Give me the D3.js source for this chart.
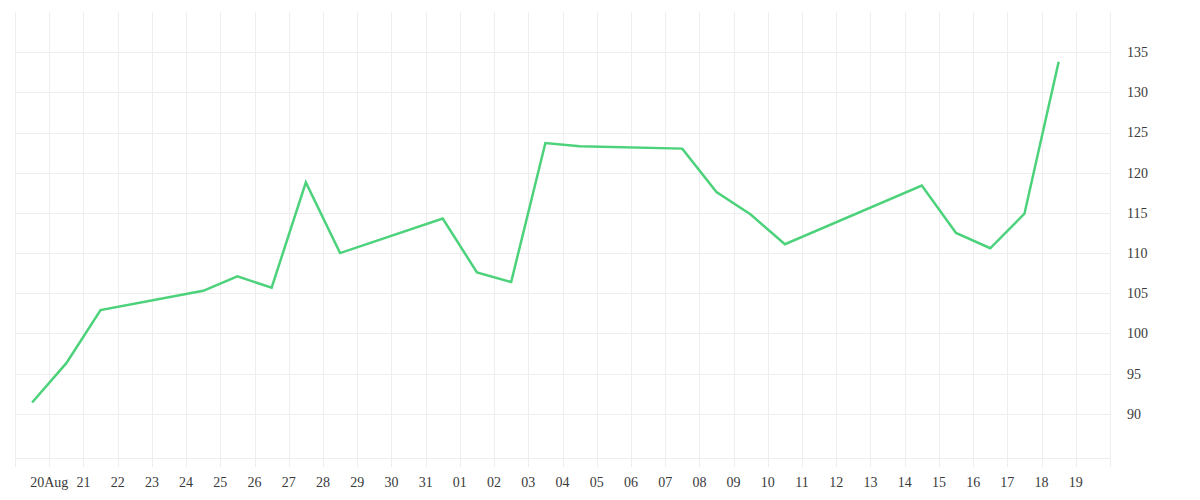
<!DOCTYPE html>
<html>
<head>
	<title>Price</title>
	<meta charset="UTF-8">
	<style>
		body {
			margin: 0;
			background: #fff;
		}

		.grid line {
			stroke: #eeeeee;
			stroke-width: 1px;
			shape-rendering: crispEdges;
		}

		.axis text {
			font-family: "Liberation Serif", serif;
			font-size: 14px;
			fill: #3a3a3a;
		}

		.line {
			fill: none;
			stroke: #4cd27b;
			stroke-width: 2.5px;
			stroke-linejoin: miter;
		}
	</style>
</head>
<body>
</body>
<script src="https://d3js.org/d3.v7.min.js"></script>
<script type="text/javascript">

'use strict';

// trading days (2020), one point per day
var dates = [
	"2020-08-19", "2020-08-20", "2020-08-21", "2020-08-24", "2020-08-25",
	"2020-08-26", "2020-08-27", "2020-08-28", "2020-08-31", "2020-09-01",
	"2020-09-02", "2020-09-03", "2020-09-04", "2020-09-07", "2020-09-08",
	"2020-09-09", "2020-09-10", "2020-09-14", "2020-09-15", "2020-09-16",
	"2020-09-17", "2020-09-18"
];

var values = [
	91.4, 96.3, 102.9, 105.3, 107.1,
	105.7, 118.8, 110.0, 114.3, 107.6,
	106.4, 123.7, 123.3, 123.0, 117.6,
	114.8, 111.1, 118.4, 112.5, 110.6,
	114.9, 133.8
];

var yTicks = [90, 95, 100, 105, 110, 115, 120, 125, 130, 135];

var width = 1200;
var height = 500;
var margin = {top: 12, right: 90, bottom: 42, left: 15};

var parse = d3.timeParse("%Y-%m-%d");
var data = dates.map(function(d, i){
	// points sit in the middle of their day
	return {date: d3.timeHour.offset(parse(d), 12), value: values[i]};
});

var x = d3.scaleTime()
	.domain([parse("2020-08-19"), parse("2020-09-20")])
	.range([margin.left, width - margin.right]);

var y = d3.scaleLinear()
	.domain([84.5, 140])
	.range([height - margin.bottom, margin.top]);

var svg = d3.select("body").append("svg")
	.attr("width", width)
	.attr("height", height);

var dayLines = d3.timeDay.range(x.domain()[0], d3.timeDay.offset(x.domain()[1], 1));
var dayTicks = d3.timeDay.range(parse("2020-08-20"), parse("2020-09-20"));

var grid = svg.append("g")
	.attr("class", "grid");

grid.selectAll(".v")
	.data(dayLines)
.enter().append("line")
	.attr("class", "v")
	.attr("x1", function(d){ return Math.round(x(d)) + 0.5; })
	.attr("x2", function(d){ return Math.round(x(d)) + 0.5; })
	.attr("y1", margin.top)
	.attr("y2", height - margin.bottom + 9);

grid.selectAll(".h")
	.data(yTicks.concat([y.domain()[0]]))
.enter().append("line")
	.attr("class", "h")
	.attr("x1", x.range()[0])
	.attr("x2", x.range()[1])
	.attr("y1", function(d){ return Math.round(y(d)) + 0.5; })
	.attr("y2", function(d){ return Math.round(y(d)) + 0.5; });

var fmtDay = d3.timeFormat("%d");
var xAxis = svg.append("g")
	.attr("class", "axis x");

xAxis.selectAll("text")
	.data(dayTicks)
.enter().append("text")
	.attr("x", function(d){ return x(d); })
	.attr("y", height - 13)
	.attr("text-anchor", "middle")
	.text(function(d, i){ return i === 0 ? fmtDay(d) + "Aug" : fmtDay(d); });

var yAxis = svg.append("g")
	.attr("class", "axis y");

yAxis.selectAll("text")
	.data(yTicks)
.enter().append("text")
	.attr("x", width - margin.right + 17)
	.attr("y", function(d){ return y(d); })
	.attr("dy", "0.35em")
	.text(function(d){ return d; });

var line = d3.line()
	.x(function(d){ return x(d.date); })
	.y(function(d){ return y(d.value); });

svg.append("path")
	.datum(data)
	.attr("class", "line")
	.attr("d", line);

</script>
</html>
